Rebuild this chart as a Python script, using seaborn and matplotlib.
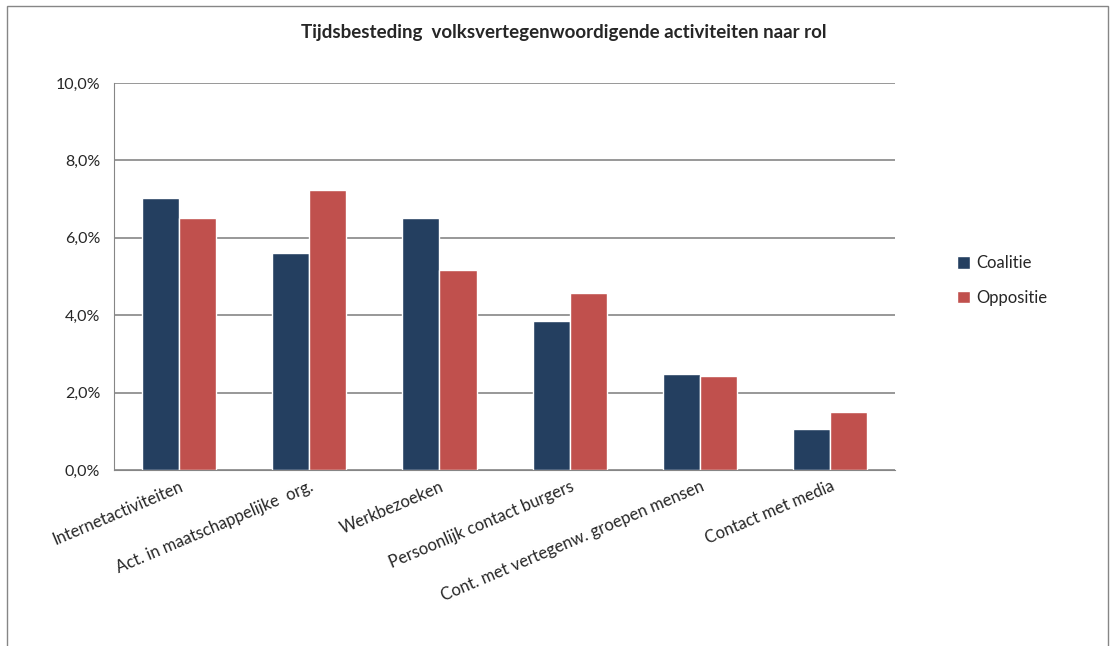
import matplotlib
matplotlib.use("Agg")
import matplotlib.pyplot as plt
import matplotlib.patches as mpatches
from matplotlib.ticker import FuncFormatter
import pandas as pd
import seaborn as sns

categories = [
    "Internetactiviteiten",
    "Act. in maatschappelijke  org.",
    "Werkbezoeken",
    "Persoonlijk contact burgers",
    "Cont. met vertegenw. groepen mensen",
    "Contact met media",
]
coalitie = [7.03, 5.61, 6.51, 3.86, 2.48, 1.06]
oppositie = [6.51, 7.24, 5.17, 4.58, 2.44, 1.50]
series = ["Coalitie", "Oppositie"]
colors = ["#243F60", "#C0504D"]

df = pd.DataFrame({
    "categorie": categories * 2,
    "rol": [series[0]] * len(categories) + [series[1]] * len(categories),
    "waarde": coalitie + oppositie,
})

sns.set_style("white")
plt.rcParams["font.family"] = ["Lato", "DejaVu Sans"]

fig = plt.figure(figsize=(11.12, 6.46), dpi=100)
ax = fig.add_axes([0.1025, 0.2724, 0.7025, 0.5991])

sns.barplot(data=df, x="categorie", y="waarde", hue="rol", palette=colors,
            width=0.57, gap=0, saturation=1, ax=ax, legend=True)

ax.set_ylim(0, 10)
ax.set_yticks([0, 2, 4, 6, 8, 10])
ax.yaxis.set_major_formatter(FuncFormatter(lambda v, p: f"{v:.1f}%".replace(".", ",")))
ax.grid(axis="y", color="#868686", linewidth=1.2)
ax.set_axisbelow(True)
for s in ["top", "right"]:
    ax.spines[s].set_visible(False)
ax.spines["left"].set_color("#868686")
ax.spines["bottom"].set_color("#868686")
ax.tick_params(axis="y", labelsize=11.5, length=0, pad=10)
ax.tick_params(axis="x", labelsize=12, length=0, pad=6)
ax.set_xticks(range(len(categories)))
ax.set_xticklabels(categories, rotation=23, ha="right", rotation_mode="anchor")
ax.set_xlabel("")
ax.set_ylabel("")

fig.text(0.507, 0.949, "Tijdsbesteding  volksvertegenwoordigende activiteiten naar rol",
         ha="center", va="center", fontsize=13.5, fontweight="bold")

ax.legend(loc="center left", bbox_to_anchor=(1.06, 0.49), frameon=False,
          fontsize=12, handlelength=0.75, handleheight=0.75, labelspacing=1.1,
          handletextpad=0.4)

fig.patches.append(mpatches.Rectangle((0.0065, -0.01), 0.99, 1.0, transform=fig.transFigure,
                                      fill=False, edgecolor="#868686", linewidth=1.0))

fig.savefig("out.png", dpi=100)
